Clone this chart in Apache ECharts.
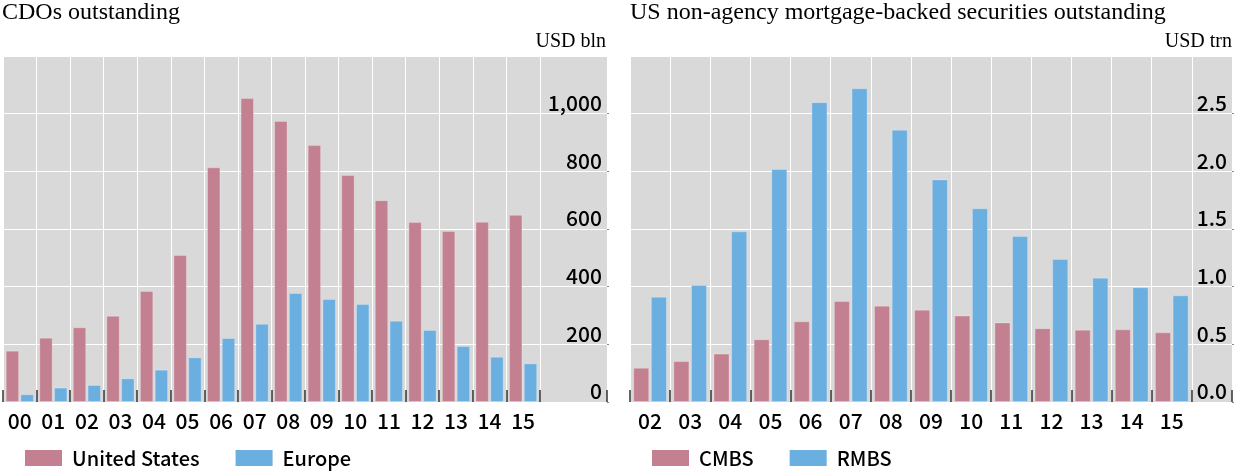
<!DOCTYPE html>
<html>
<head>
<meta charset="utf-8">
<script src="https://cdn.jsdelivr.net/npm/echarts@6/dist/echarts.min.js"></script>
<style>
html,body{margin:0;padding:0;background:#fff;}
#chart{width:1236px;height:474px;}
</style>
</head>
<body>
<div id="chart"></div>
<script>
// Left panel: CDOs outstanding (USD bln)
const cdoYears = ['00','01','02','03','04','05','06','07','08','09','10','11','12','13','14','15'];
const cdoUS = [178, 223, 259, 299, 385, 510, 814, 1054, 975, 891, 787, 700, 624, 593, 625, 649];
const cdoEurope = [27, 50, 59, 82, 112, 155, 222, 271, 378, 357, 340, 282, 250, 194, 157, 134];
const cdoTicks = [0, 200, 400, 600, 800, 1000, 1200];

// Right panel: US non-agency MBS outstanding (USD trn)
const mbsYears = ['02','03','04','05','06','07','08','09','10','11','12','13','14','15'];
const cmbs = [0.297, 0.355, 0.42, 0.544, 0.70, 0.876, 0.835, 0.80, 0.75, 0.69, 0.64, 0.627, 0.63, 0.604];
const rmbs = [0.913, 1.014, 1.48, 2.02, 2.60, 2.72, 2.36, 1.93, 1.68, 1.44, 1.24, 1.078, 0.995, 0.925];
const mbsTicks = [0, 0.5, 1.0, 1.5, 2.0, 2.5, 3.0];

const RED = '#c38090';
const BLUE = '#6baee0';
const GREY = '#d9d9d9';
const SANS = "'Noto Sans CJK SC', 'Noto Sans', sans-serif";
const SERIF = "'Liberation Serif', 'DejaVu Serif', serif";
const WEIGHT = 500;

const leftCats = cdoYears.concat(['', '']);
const rightCats = mbsYears.concat(['']);

const chart = echarts.init(document.getElementById('chart'), null, {renderer: 'canvas'});

function xAxisFor(gridIndex, cats, lastIdx) {
  return {
    type: 'category', gridIndex: gridIndex, data: cats,
    axisLine: {show: false},
    axisTick: {show: true, inside: true, length: 12, interval: (i) => i <= lastIdx,
      lineStyle: {color: '#333', width: 1.5}},
    axisLabel: {interval: 0, margin: 9, color: '#000', fontSize: 21, fontWeight: WEIGHT, fontFamily: SANS},
    splitLine: {show: true, interval: (i) => i <= lastIdx, lineStyle: {color: '#fff', width: 1}}
  };
}
function yAxisFor(gridIndex, ticks, fmt) {
  return {
    type: 'value', gridIndex: gridIndex, position: 'right',
    min: ticks[0], max: ticks[ticks.length - 1], interval: ticks[1] - ticks[0],
    axisLine: {show: false},
    axisTick: {show: true, length: 2, lineStyle: {color: '#888'}},
    axisLabel: {inside: true, margin: 5, verticalAlign: 'bottom', showMaxLabel: false,
      color: '#000', fontSize: 21, fontWeight: WEIGHT, fontFamily: SANS, formatter: fmt},
    splitLine: {show: true, lineStyle: {color: '#fff', width: 1}}
  };
}
function barSeries(name, data, color, idx) {
  return {
    name: name, type: 'bar', xAxisIndex: idx, yAxisIndex: idx, data: data,
    barWidth: '40%', barGap: '10%',
    itemStyle: {color: color, borderColor: 'rgba(255,255,255,0.25)', borderWidth: 1},
    emphasis: {disabled: true}
  };
}
const legendBase = {
  icon: 'rect', itemWidth: 37, itemHeight: 16, itemGap: 36, top: 448, padding: 0,
  itemStyle: {borderWidth: 0},
  textStyle: {color: '#000', fontSize: 20, fontWeight: WEIGHT, fontFamily: SANS, padding: [0, 0, 0, 5]},
  selectedMode: false
};
const titleText = {color: '#000', fontFamily: SERIF, fontWeight: 'normal'};

chart.setOption({
  animation: false,
  backgroundColor: '#fff',
  title: [
    {text: 'CDOs outstanding', left: 2, top: 1, padding: 0, textStyle: Object.assign({fontSize: 24}, titleText)},
    {text: 'US non-agency mortgage-backed securities outstanding', left: 630, top: 1, padding: 0, textStyle: Object.assign({fontSize: 24}, titleText)},
    {text: 'USD bln', right: 630, top: 32, padding: 0, textStyle: Object.assign({fontSize: 20}, titleText)},
    {text: 'USD trn', right: 4, top: 32, padding: 0, textStyle: Object.assign({fontSize: 20}, titleText)}
  ],
  legend: [
    Object.assign({left: 25, data: ['United States', 'Europe']}, legendBase),
    Object.assign({left: 652, data: ['CMBS', 'RMBS']}, legendBase)
  ],
  grid: [
    {left: 3, width: 604, top: 56, height: 346, show: true, backgroundColor: GREY, borderWidth: 0},
    {left: 630, width: 602, top: 56, height: 346, show: true, backgroundColor: GREY, borderWidth: 0}
  ],
  xAxis: [xAxisFor(0, leftCats, 16), xAxisFor(1, rightCats, 14)],
  yAxis: [
    yAxisFor(0, cdoTicks, (v) => v.toLocaleString('en-US')),
    yAxisFor(1, mbsTicks, (v) => v.toFixed(1))
  ],
  series: [
    barSeries('United States', cdoUS, RED, 0),
    barSeries('Europe', cdoEurope, BLUE, 0),
    barSeries('CMBS', cmbs, RED, 1),
    barSeries('RMBS', rmbs, BLUE, 1)
  ]
});
</script>
</body>
</html>
